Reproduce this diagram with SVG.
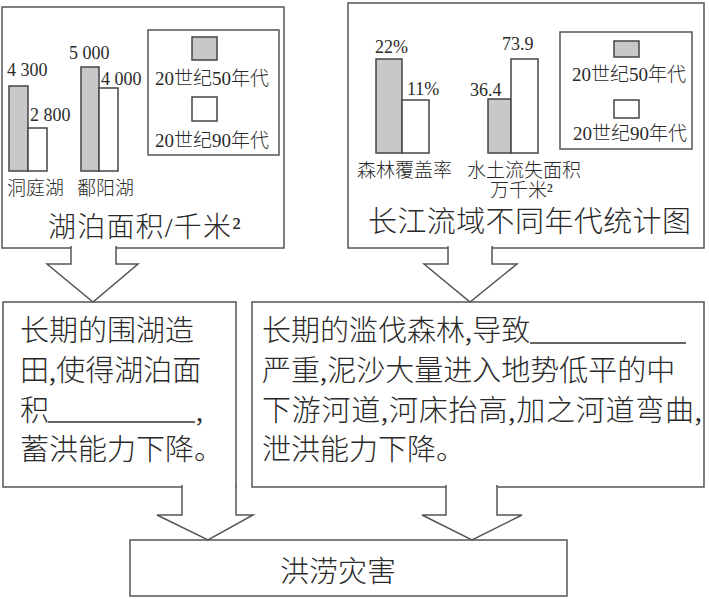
<svg xmlns="http://www.w3.org/2000/svg" width="709" height="599" viewBox="0 0 709 599">
<style>
.box{fill:#fff;stroke:#555;stroke-width:1.5}
.bar50{fill:#c8c8c8;stroke:#444;stroke-width:1.5}
.bar90{fill:#fff;stroke:#444;stroke-width:1.5}
.lg{fill:none;stroke:#555;stroke-width:1.5}
.arrow{fill:#fff;stroke:#555;stroke-width:1.5;stroke-linejoin:miter}
.t{font-family:"Liberation Serif","Noto Sans CJK SC",serif;fill:#2a2a2a;font-weight:300}
.s{font-size:18px}
.m{font-size:19px}
.p{font-size:29px}
.blank{stroke:#333;stroke-width:1.3}
</style>
<rect width="709" height="599" fill="#fff"/>
<g id="lake-chart">
<rect class="box" x="2" y="7" width="282" height="241"/>
<rect class="bar50" x="9" y="86" width="19" height="85"/>
<rect class="bar90" x="28" y="128" width="19" height="43"/>
<rect class="bar50" x="81" y="67" width="18" height="104"/>
<rect class="bar90" x="99" y="88" width="19" height="83"/>
<text class="t s" x="7" y="76">4 300</text>
<text class="t s" x="30" y="121">2 800</text>
<text class="t s" x="69" y="59">5 000</text>
<text class="t s" x="101" y="85">4 000</text>
<text class="t m" x="7" y="195">洞庭湖</text>
<text class="t m" x="77" y="195">鄱阳湖</text>
<rect class="lg" x="148" y="30" width="131" height="125"/>
<rect class="bar50" x="192" y="37" width="25" height="23"/>
<text class="t m" x="212" y="85" text-anchor="middle">20世纪50年代</text>
<rect class="bar90" x="192" y="97" width="25" height="24"/>
<text class="t m" x="212" y="147" text-anchor="middle">20世纪90年代</text>
<text class="t" x="48" y="237" font-size="28" letter-spacing="1.2">湖泊面积/千米²</text>
</g>
<g id="yangtze-chart">
<rect class="box" x="348" y="3" width="356" height="245"/>
<rect class="bar50" x="376" y="59" width="26" height="94"/>
<rect class="bar90" x="402" y="100" width="27" height="53"/>
<rect class="bar50" x="488" y="99" width="23" height="54"/>
<rect class="bar90" x="511" y="59" width="27" height="94"/>
<text class="t s" x="375" y="53">22%</text>
<text class="t s" x="407" y="95">11%</text>
<text class="t s" x="470" y="96">36.4</text>
<text class="t s" x="502" y="50">73.9</text>
<text class="t m" x="357" y="177">森林覆盖率</text>
<text class="t m" x="467" y="177">水土流失面积</text>
<text class="t m" x="490" y="197">万千米²</text>
<rect class="lg" x="560" y="32" width="132" height="117"/>
<rect class="bar50" x="614" y="41" width="25" height="16"/>
<text class="t m" x="629" y="81" text-anchor="middle">20世纪50年代</text>
<rect class="bar90" x="614" y="100" width="25" height="18"/>
<text class="t m" x="630" y="140" text-anchor="middle">20世纪90年代</text>
<text class="t" x="368" y="232" font-size="29" letter-spacing="0.4">长江流域不同年代统计图</text>
</g>
<g id="lake-cause">
<rect class="box" x="3" y="302" width="233" height="185"/>
<text class="t p" x="20" y="341">长期的围湖造</text>
<text class="t p" x="20" y="381">田,使得湖泊面</text>
<text class="t p" x="20" y="421">积</text>
<line class="blank" x1="48" y1="422" x2="195" y2="422"/>
<text class="t p" x="196" y="421">,</text>
<text class="t p" x="20" y="460">蓄洪能力下降。</text>
</g>
<g id="forest-cause">
<rect class="box" x="252" y="302" width="452" height="185"/>
<text class="t p" x="262" y="341">长期的滥伐森林,导致</text>
<line class="blank" x1="530" y1="343" x2="686" y2="343"/>
<text class="t p" x="262" y="381">严重,泥沙大量进入地势低平的中</text>
<text class="t p" x="262" y="421" textLength="440" lengthAdjust="spacing">下游河道,河床抬高,加之河道弯曲,</text>
<text class="t p" x="262" y="460">泄洪能力下降。</text>
</g>
<g id="flood">
<rect class="box" x="130" y="540" width="437" height="56"/>
<text class="t" x="338" y="582" font-size="29" text-anchor="middle">洪涝灾害</text>
</g>
<g id="connectors">
<path class="arrow" d="M71,246 V264 H47 L93,302 L138,264 H116 V246"/>
<path class="arrow" d="M448,246 V264 H424 L470,302 L517,264 H492 V246"/>
<path class="arrow" d="M182,485 V515 H157 L208,540 L253,515 H236 V485"/>
<path class="arrow" d="M446,485 V515 H422 L472,540 L522,515 H497 V485"/>
</g>
</svg>
